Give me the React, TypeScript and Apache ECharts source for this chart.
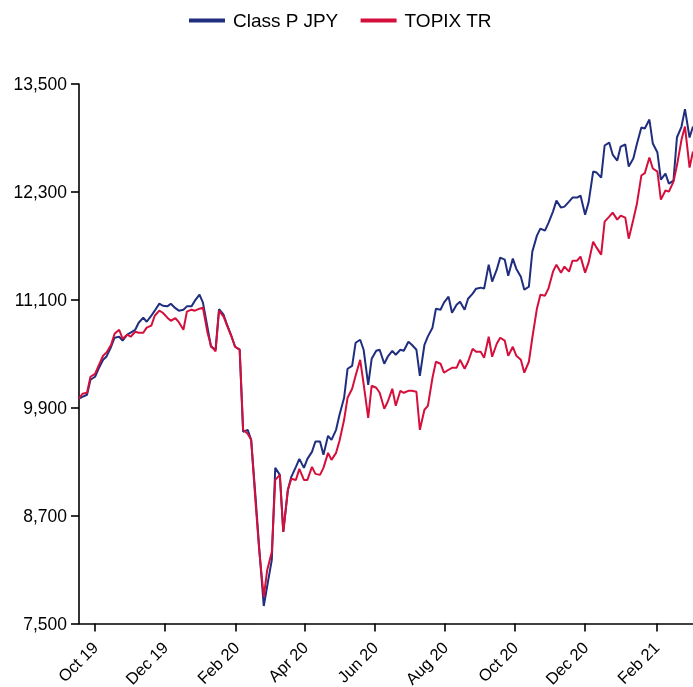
import React, { useEffect, useRef } from 'react';
import * as echarts from 'echarts';

const dates = [
  '2019-09-17','2019-09-20','2019-09-24','2019-09-27','2019-10-01','2019-10-04','2019-10-08','2019-10-11',
  '2019-10-15','2019-10-18','2019-10-22','2019-10-25','2019-10-29','2019-11-01','2019-11-05','2019-11-08',
  '2019-11-12','2019-11-15','2019-11-19','2019-11-22','2019-11-26','2019-11-29','2019-12-03','2019-12-06',
  '2019-12-10','2019-12-13','2019-12-17','2019-12-20','2019-12-24','2019-12-27','2019-12-31','2020-01-03',
  '2020-01-07','2020-01-10','2020-01-14','2020-01-17','2020-01-21','2020-01-24','2020-01-28','2020-01-31',
  '2020-02-04','2020-02-07','2020-02-11','2020-02-14','2020-02-18','2020-02-21','2020-02-25','2020-02-28',
  '2020-03-03','2020-03-06','2020-03-10','2020-03-13','2020-03-17','2020-03-20','2020-03-24','2020-03-27',
  '2020-03-31','2020-04-03','2020-04-07','2020-04-10','2020-04-14','2020-04-17','2020-04-21','2020-04-24',
  '2020-04-28','2020-05-01','2020-05-05','2020-05-08','2020-05-12','2020-05-15','2020-05-19','2020-05-22',
  '2020-05-26','2020-05-29','2020-06-02','2020-06-05','2020-06-09','2020-06-12','2020-06-16','2020-06-19',
  '2020-06-23','2020-06-26','2020-06-30','2020-07-03','2020-07-07','2020-07-10','2020-07-14','2020-07-17',
  '2020-07-21','2020-07-24','2020-07-28','2020-07-31','2020-08-04','2020-08-07','2020-08-11','2020-08-14',
  '2020-08-18','2020-08-21','2020-08-25','2020-08-28','2020-09-01','2020-09-04','2020-09-08','2020-09-11',
  '2020-09-15','2020-09-18','2020-09-22','2020-09-25','2020-09-29','2020-10-02','2020-10-06','2020-10-09',
  '2020-10-13','2020-10-16','2020-10-20','2020-10-23','2020-10-27','2020-10-30','2020-11-03','2020-11-06',
  '2020-11-10','2020-11-13','2020-11-17','2020-11-20','2020-11-24','2020-11-27','2020-12-01','2020-12-04',
  '2020-12-08','2020-12-11','2020-12-15','2020-12-18','2020-12-22','2020-12-25','2020-12-29','2021-01-01',
  '2021-01-05','2021-01-08','2021-01-12','2021-01-15','2021-01-19','2021-01-22','2021-01-26','2021-01-29',
  '2021-02-02','2021-02-05','2021-02-09','2021-02-12','2021-02-16','2021-02-19','2021-02-23','2021-02-26',
  '2021-03-02','2021-03-05',
];

const classP = [
  10000, 10021, 10044, 10211, 10244, 10333, 10433, 10470, 10578, 10678, 10689, 10645, 10712, 10734, 10767, 10845,
  10901, 10856, 10923, 10979, 11057, 11034, 11027, 11057, 11007, 10979, 10990, 11027, 11027, 11090, 11157, 11068,
  10790, 10578, 10545, 10995, 10934, 10823, 10689, 10578, 10545, 9632, 9654, 9543, 8875, 8341, 7695, 7917,
  8207, 9231, 9153, 8519, 8986, 9131, 9242, 9331, 9231, 9331, 9409, 9524, 9524, 9376, 9587, 9543,
  9654, 9821, 10010, 10333, 10366, 10622, 10656, 10545, 10155, 10444, 10533, 10545, 10389, 10467, 10533, 10489,
  10545, 10533, 10634, 10600, 10545, 10255, 10600, 10693, 10790, 11001, 10990, 11068, 11135, 10956, 11046, 11079,
  10990, 11112, 11168, 11224, 11235, 11224, 11491, 11302, 11435, 11569, 11546, 11368, 11558, 11446, 11357, 11212,
  11246, 11636, 11814, 11892, 11869, 11953, 12081, 12203, 12125, 12136, 12192, 12237, 12237, 12259, 12047, 12181,
  12526, 12515, 12459, 12816, 12849, 12715, 12649, 12804, 12827, 12582, 12671, 12827, 13016, 13005, 13105, 12838,
  12738, 12437, 12504, 12392, 12426, 12905, 13027, 13220, 12905, 13027,
];

const topix = [
  10000, 10055, 10066, 10244, 10277, 10366, 10478, 10515, 10600, 10723, 10767, 10667, 10712, 10689, 10745, 10734,
  10734, 10790, 10812, 10923, 10979, 10956, 10901, 10867, 10895, 10851, 10767, 10968, 10990, 10979, 11001, 11012,
  10734, 10589, 10526, 10979, 10912, 10812, 10689, 10578, 10545, 9654, 9610, 9543, 8819, 8318, 7795, 8096,
  8296, 9097, 9153, 8519, 8986, 9109, 9097, 9220, 9097, 9097, 9242, 9164, 9153, 9231, 9398, 9320,
  9398, 9532, 9765, 10010, 10110, 10255, 10433, 10166, 9788, 10144, 10122, 10066, 9888, 9966, 10110, 9921,
  10088, 10066, 10088, 10088, 10077, 9654, 9877, 9921, 10233, 10411, 10389, 10289, 10322, 10344, 10344, 10433,
  10333, 10411, 10556, 10522, 10522, 10456, 10689, 10467, 10611, 10678, 10645, 10478, 10578, 10478, 10433, 10289,
  10411, 10678, 11001, 11157, 11146, 11224, 11413, 11491, 11402, 11469, 11413, 11535, 11535, 11580, 11402, 11513,
  11747, 11680, 11602, 11970, 12025, 12070, 11992, 12036, 12014, 11780, 11992, 12159, 12482, 12509, 12682, 12560,
  12526, 12214, 12315, 12303, 12415, 12593, 12882, 13027, 12571, 12749,
];

const tickDates = ['2019-10-01','2019-12-01','2020-02-01','2020-04-01','2020-06-01','2020-08-01','2020-10-01','2020-12-01','2021-02-01'];
const tickLabels = ['Oct 19','Dec 19','Feb 20','Apr 20','Jun 20','Aug 20','Oct 20','Dec 20','Feb 21'];
const xStart = '2019-09-17';
const xEnd = '2021-03-05';
const yMin = 7500;
const yMax = 13500;
const yStep = 1200;

const BLUE = '#1f2e7e';
const RED = '#d40f3c';
const FONT = '"Liberation Sans", Arial, Helvetica, sans-serif';

const ts = (s: string) => Date.parse(s + 'T00:00:00Z');

export default function App() {
  const ref = useRef<HTMLDivElement>(null);
  useEffect(() => {
    if (!ref.current) return;
    const chart = echarts.init(ref.current, null, { renderer: 'svg' });
    const tickTs = tickDates.map(ts);
    const axisLineStyle = { color: '#000', width: 1.6 };
    chart.setOption({
      animation: false,
      textStyle: { fontFamily: FONT },
      legend: {
        top: 6,
        left: 184,
        icon: 'rect',
        itemWidth: 36,
        itemHeight: 4,
        itemGap: 22,
        textStyle: { fontSize: 19, color: '#000', fontFamily: FONT, padding: [0, 0, 0, 3] },
        data: ['Class P JPY', 'TOPIX TR'],
      },
      grid: { left: 79, right: 0, top: 84, bottom: 63.5, containLabel: false, outerBoundsMode: 'none' },
      xAxis: {
        type: 'value',
        min: ts(xStart),
        max: ts(xEnd),
        splitLine: { show: false },
        axisLine: { show: true, lineStyle: axisLineStyle },
        axisTick: { show: true, length: 8, lineStyle: axisLineStyle, customValues: tickTs },
        axisLabel: {
          customValues: tickTs,
          rotate: 45,
          margin: 21,
          fontSize: 16.5,
          color: '#000',
          fontFamily: FONT,
          formatter: (v: number) => {
            const i = tickTs.indexOf(v);
            return i >= 0 ? tickLabels[i] : '';
          },
        },
      },
      yAxis: {
        type: 'value',
        min: yMin,
        max: yMax,
        interval: yStep,
        splitLine: { show: false },
        axisLine: { show: true, lineStyle: axisLineStyle },
        axisTick: { show: true, length: 8, lineStyle: axisLineStyle },
        axisLabel: {
          margin: 12,
          fontSize: 17.5,
          color: '#000',
          fontFamily: FONT,
          formatter: (v: number) => v.toLocaleString('en-US'),
        },
      },
      series: [
        {
          name: 'Class P JPY',
          type: 'line',
          data: dates.map((d, i) => [ts(d), classP[i]]),
          showSymbol: false,
          symbol: 'none',
          lineStyle: { color: BLUE, width: 2 },
          itemStyle: { color: BLUE },
        },
        {
          name: 'TOPIX TR',
          type: 'line',
          data: dates.map((d, i) => [ts(d), topix[i]]),
          showSymbol: false,
          symbol: 'none',
          lineStyle: { color: RED, width: 2 },
          itemStyle: { color: RED },
        },
      ],
    });
    return () => chart.dispose();
  }, []);
  return <div ref={ref} style={{ position: 'fixed', left: 0, top: 0, width: 693, height: 687 }} />;
}
